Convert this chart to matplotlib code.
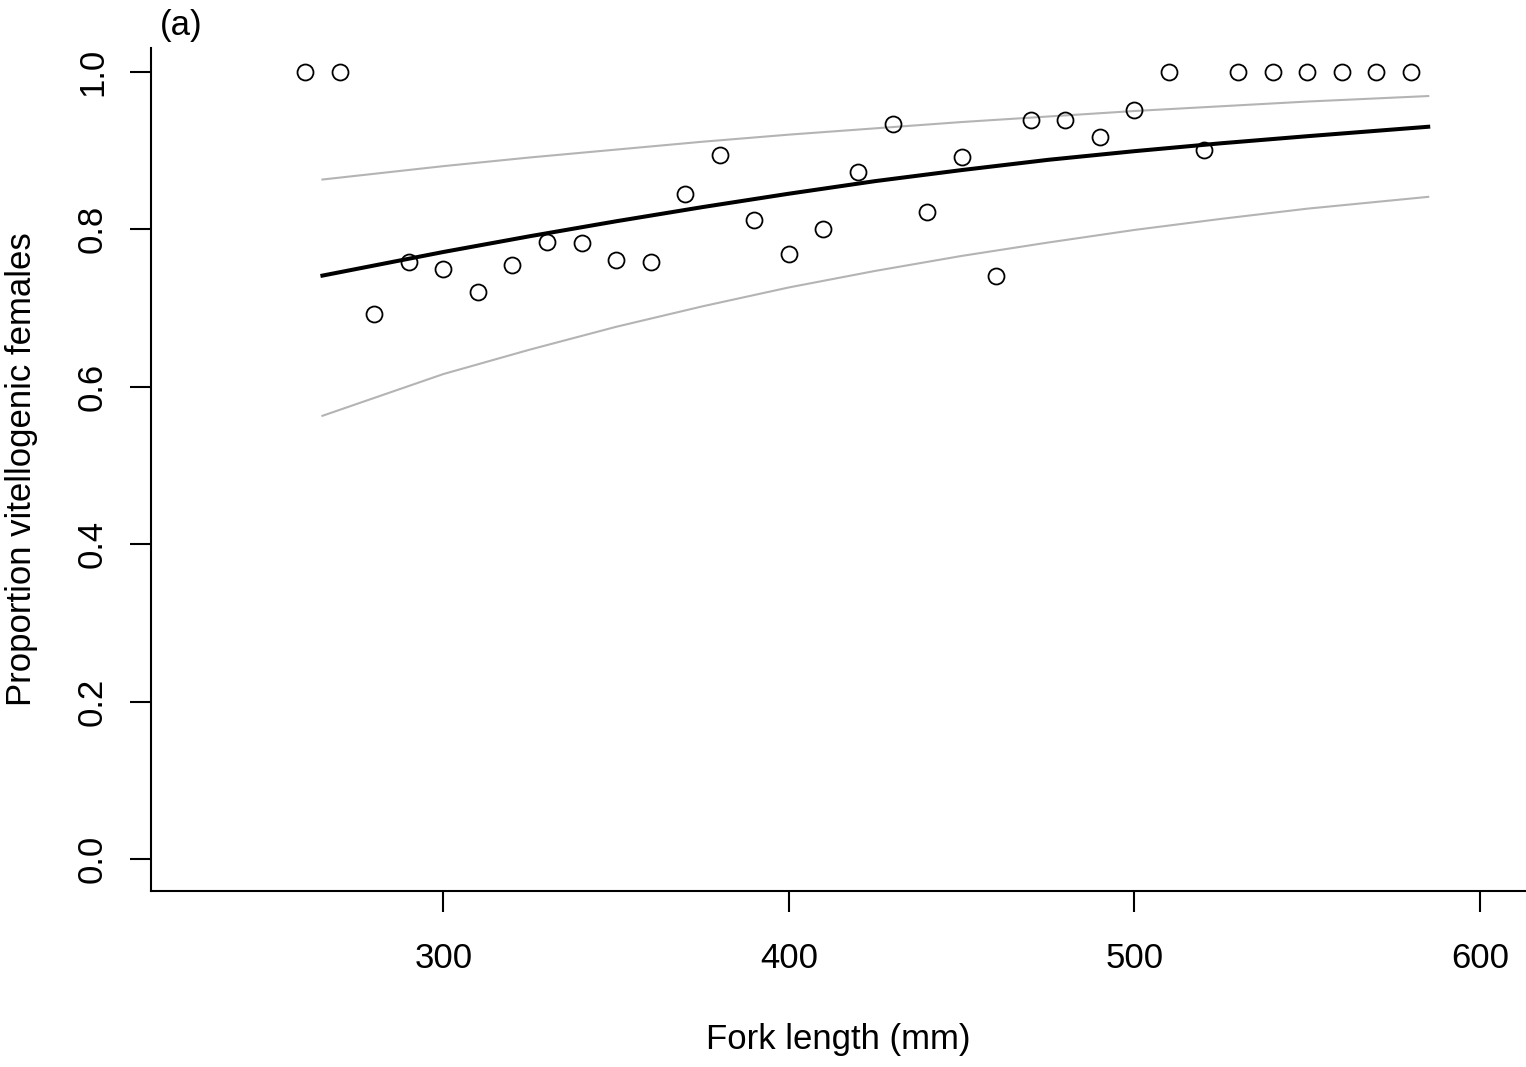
import matplotlib.pyplot as plt

plt.rcParams['font.family'] = ['Liberation Sans', 'DejaVu Sans']

# Observed proportions by fork length class
fork_length = [260, 270, 280, 290, 300, 310, 320, 330, 340, 350, 360, 370, 380,
               390, 400, 410, 420, 430, 440, 450, 460, 470, 480, 490, 500, 510,
               520, 530, 540, 550, 560, 570, 580]
prop_vitello = [1.0, 1.0, 0.692, 0.758, 0.750, 0.720, 0.755, 0.784, 0.782, 0.761,
                0.758, 0.845, 0.894, 0.811, 0.769, 0.800, 0.873, 0.933, 0.822,
                0.892, 0.740, 0.939, 0.939, 0.917, 0.951, 1.0, 0.900, 1.0, 1.0,
                1.0, 1.0, 1.0, 1.0]

# Fitted curve and confidence bounds
fit_x = [265, 300, 325, 350, 375, 400, 425, 450, 475, 500, 525, 550, 585]
fit_mid = [0.741, 0.771, 0.791, 0.810, 0.828, 0.845, 0.861, 0.875, 0.888,
           0.899, 0.909, 0.918, 0.930]
fit_upper = [0.863, 0.880, 0.891, 0.901, 0.911, 0.920, 0.928, 0.936, 0.943,
             0.950, 0.956, 0.962, 0.969]
fit_lower = [0.563, 0.616, 0.647, 0.676, 0.702, 0.726, 0.747, 0.766, 0.783,
             0.799, 0.813, 0.826, 0.841]

x_ticks = [300, 400, 500, 600]
y_ticks = [0.0, 0.2, 0.4, 0.6, 0.8, 1.0]

W, H = 1526, 1067
fig = plt.figure(figsize=(W / 100, H / 100), dpi=100)
ax = fig.add_axes([150.7 / W, 1 - 890.7 / H, 1 - 150.7 / W, (890.7 - 48) / H])

ax.plot(fit_x, fit_upper, color='#b4b4b4', lw=1.5)
ax.plot(fit_x, fit_lower, color='#b4b4b4', lw=1.5)
ax.plot(fit_x, fit_mid, color='black', lw=2.9)
ax.plot(fork_length, prop_vitello, 'o', ms=11.5, mfc='none', mec='black', mew=1.3)

ax.set_xlim(215.3, 613.3)
ax.set_ylim(-0.04, 1.03)
ax.set_xticks(x_ticks)
ax.set_xticklabels([str(v) for v in x_ticks])
ax.set_yticks(y_ticks)
ax.set_yticklabels([f'{v:.1f}' for v in y_ticks], rotation=90, va='center')

for s in ['top', 'right']:
    ax.spines[s].set_visible(False)
for s in ['left', 'bottom']:
    ax.spines[s].set_linewidth(1.5)

ax.tick_params(axis='both', length=15, width=1.5, labelsize=25, direction='out')
ax.tick_params(axis='x', pad=22)
ax.tick_params(axis='y', pad=15)

ax.set_xlabel('Fork length (mm)', fontsize=25, va='center')
ax.xaxis.set_label_coords(0.5, (890.7 - 1040) / (890.7 - 48))
ax.set_ylabel('Proportion vitellogenic females', fontsize=25, va='center')
ax.yaxis.set_label_coords((22 - 150.7) / (W - 150.7), 0.5)

fig.text(160 / W, 1 - 25 / H, '(a)', fontsize=25, va='center', ha='left')

fig.savefig('out.png', dpi=100)
